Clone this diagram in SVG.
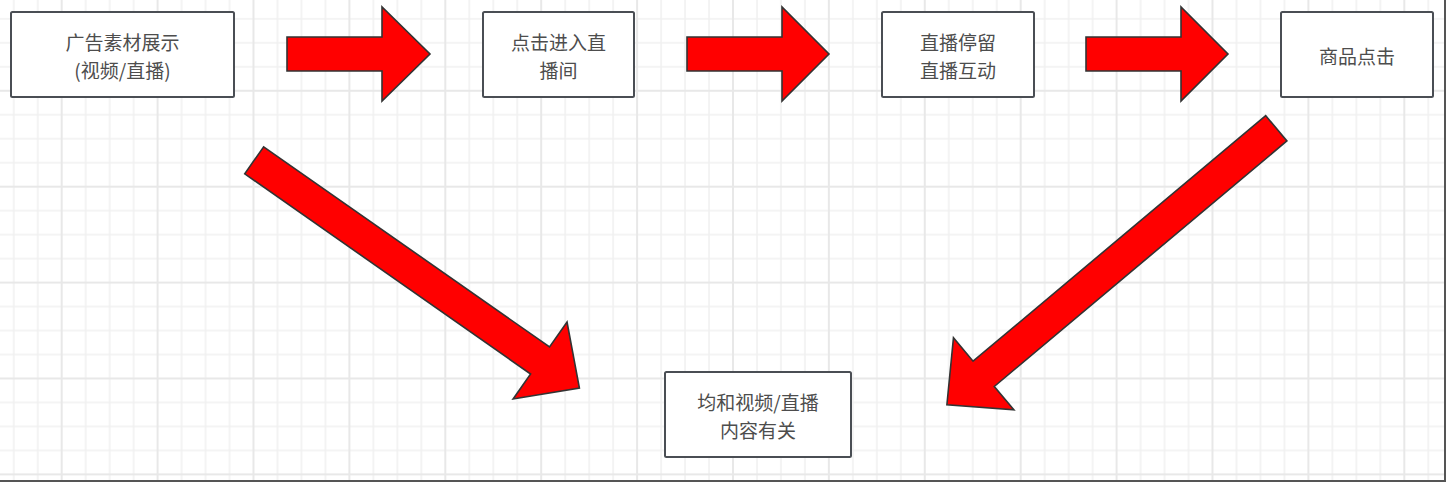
<svg xmlns="http://www.w3.org/2000/svg" width="1446" height="482" viewBox="0 0 1446 482">
  <style>
    .box { fill: #ffffff; stroke: #4a4e54; stroke-width: 2; }
    .label { font-family: "Noto Sans CJK SC", "Noto Sans", sans-serif; font-size: 19px; fill: #4d4d4d; text-anchor: middle; dominant-baseline: central; }
    .arrow { fill: #ff0000; stroke: #333333; stroke-width: 1.6; stroke-linejoin: miter; }
  </style>
  <defs>
    <pattern id="grid" patternUnits="userSpaceOnUse" x="49.7" y="174.7" width="95.9" height="95.9">
      <path d="M35.975 0V95.9M59.95 0V95.9M83.925 0V95.9M0 35.975H95.9M0 59.95H95.9M0 83.925H95.9" stroke="#f1f1f1" stroke-width="1.6" fill="none"/>
      <path d="M12 0V95.9M0 12H95.9" stroke="#e8e8e8" stroke-width="2" fill="none"/>
    </pattern>
  </defs>
  <rect x="0" y="0" width="1446" height="482" fill="#ffffff"/>
  <rect x="0" y="0" width="1446" height="482" fill="url(#grid)"/>
  <line x1="0" y1="481" x2="1446" y2="481" stroke="#555555" stroke-width="2"/>
  <line x1="1445" y1="0" x2="1445" y2="482" stroke="#555555" stroke-width="2"/>

  <g id="connectors">
    <path class="arrow" transform="translate(287,54)" d="M0,-17 L95,-17 L95,-47 L143,0 L95,47 L95,17 L0,17 Z"/>
    <path class="arrow" transform="translate(687,54)" d="M0,-17 L95,-17 L95,-47 L142,0 L95,47 L95,17 L0,17 Z"/>
    <path class="arrow" transform="translate(1086,54)" d="M0,-17 L95,-17 L95,-47 L142,0 L95,47 L95,17 L0,17 Z"/>
    <path class="arrow" transform="translate(254.2,160.3) rotate(35)" d="M0,-16.5 L349,-16.5 L349,-47 L397,0 L349,47 L349,16.5 L0,16.5 Z"/>
    <path class="arrow" transform="translate(1276.3,128.3) rotate(140)" d="M0,-16.5 L382,-16.5 L382,-47 L430,0 L382,47 L382,16.5 L0,16.5 Z"/>
  </g>

  <g id="node-ad">
    <rect class="box" x="11" y="12" width="223" height="85" rx="1.5"/>
    <text class="label"><tspan x="122.5" y="41.3">广告素材展示</tspan><tspan x="122.5" y="69">(视频/直播)</tspan></text>
  </g>
  <g id="node-enter">
    <rect class="box" x="483" y="12" width="151" height="85" rx="1.5"/>
    <text class="label"><tspan x="558.5" y="41.3">点击进入直</tspan><tspan x="558.5" y="69">播间</tspan></text>
  </g>
  <g id="node-stay">
    <rect class="box" x="882" y="12" width="152" height="85" rx="1.5"/>
    <text class="label"><tspan x="958" y="41.3">直播停留</tspan><tspan x="958" y="69">直播互动</tspan></text>
  </g>
  <g id="node-click">
    <rect class="box" x="1281" y="12" width="152" height="85" rx="1.5"/>
    <text class="label" x="1357" y="55.5">商品点击</text>
  </g>
  <g id="node-content">
    <rect class="box" x="665" y="372" width="186" height="85" rx="1.5"/>
    <text class="label"><tspan x="758" y="401">均和视频/直播</tspan><tspan x="758" y="428.7">内容有关</tspan></text>
  </g>
</svg>
